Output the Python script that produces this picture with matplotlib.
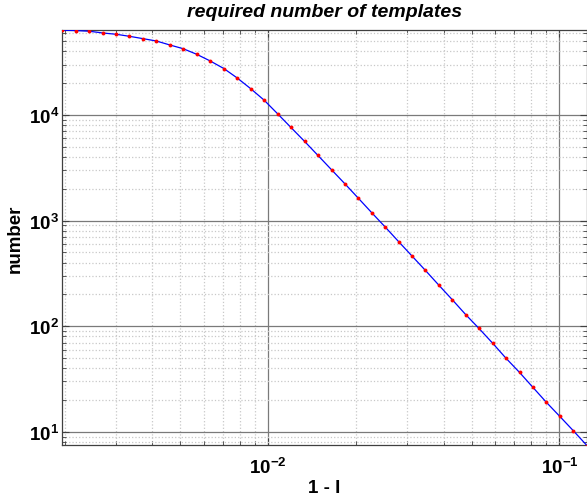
import numpy as np
import matplotlib
matplotlib.use('Agg')
import matplotlib.pyplot as plt
from matplotlib.ticker import LogLocator, FuncFormatter, NullFormatter

# ── Style ──────────────────────────────────────────────────────────
plt.rcParams.update({
    'font.family': 'Liberation Sans',
    'font.weight': 'bold',
    'mathtext.fontset': 'custom',
    'mathtext.rm': 'Liberation Sans:bold',
    'mathtext.it': 'Liberation Sans:bold:italic',
    'mathtext.bf': 'Liberation Sans:bold',
})

# ── Data ───────────────────────────────────────────────────────────
one_minus_I = [0.00196, 0.00219, 0.00243, 0.00270, 0.00301, 0.00334, 0.00372, 0.00413,
               0.00460, 0.00511, 0.00568, 0.00632, 0.00705, 0.00783, 0.00872, 0.00969,
               0.0108, 0.01196, 0.01333, 0.01481, 0.01650, 0.01837, 0.02041, 0.02267,
               0.02527, 0.02806, 0.03117, 0.03464, 0.03857, 0.04287, 0.04762, 0.05288,
               0.05905, 0.06545, 0.07292, 0.08101, 0.09004, 0.10023, 0.1117, 0.1243]
n_templates = [63500, 63000, 62100, 59800, 58100, 55600, 52800, 50200,
               46000, 42400, 37600, 32500, 27500, 22400, 17700, 13800,
               10200, 7640, 5630, 4150, 3030, 2220, 1625, 1188,
               864, 631, 462, 338, 244, 178, 129, 95.5,
               68.7, 49.9, 36.5, 26.4, 19.1, 14.0, 10.2, 7.4]

fig = plt.figure(figsize=(5.87, 5.02), dpi=100)
ax = fig.add_axes([62 / 587, 1 - 446.3 / 502, 1 - 62 / 587, (446.3 - 30.7) / 502])

ax.plot(one_minus_I, n_templates, color='#0000ff', linewidth=0.9, zorder=3)
ax.plot(one_minus_I, n_templates, linestyle='none', marker='o', markersize=2.8,
        color='#ff0000', markeredgewidth=0, zorder=4)

ax.set_xscale('log')
ax.set_yscale('log')
ax.set_xlim(0.00196, 0.1243)
ax.set_ylim(7.45, 64200)

ax.xaxis.set_major_locator(LogLocator(base=10, numticks=10))
ax.yaxis.set_major_locator(LogLocator(base=10, numticks=10))
ax.xaxis.set_minor_locator(LogLocator(base=10, subs=np.arange(2, 10), numticks=20))
ax.yaxis.set_minor_locator(LogLocator(base=10, subs=np.arange(2, 10), numticks=20))
fmt = FuncFormatter(lambda v, p: r'$\mathrm{10^{%d}}$' % round(np.log10(v)))
ax.xaxis.set_major_formatter(fmt)
ax.yaxis.set_major_formatter(fmt)
ax.xaxis.set_minor_formatter(NullFormatter())
ax.yaxis.set_minor_formatter(NullFormatter())

ax.grid(which='major', color='#7a7a7a', linestyle='-', linewidth=0.9)
ax.grid(which='minor', color='#c8c8c8', linestyle=':', linewidth=0.9)
ax.set_axisbelow(True)

ax.tick_params(which='both', direction='in', top=True, right=True,
               color='#404040', labelsize=13.5)
ax.tick_params(which='major', length=5, width=0.8)
ax.tick_params(which='minor', length=3, width=0.6)
ax.tick_params(axis='x', pad=8)
ax.tick_params(axis='y', pad=2)
for s in ax.spines.values():
    s.set_color('#404040')
    s.set_linewidth(0.9)

ax.set_xlabel('1 - I', fontsize=13.5, fontweight='bold', labelpad=2)
ax.set_ylabel('number', fontsize=13.5, fontweight='bold', labelpad=4)
ax.set_title('required number of templates', fontsize=14, fontweight='bold',
             fontstyle='italic', pad=10)

fig.savefig('out.png', dpi=100)
